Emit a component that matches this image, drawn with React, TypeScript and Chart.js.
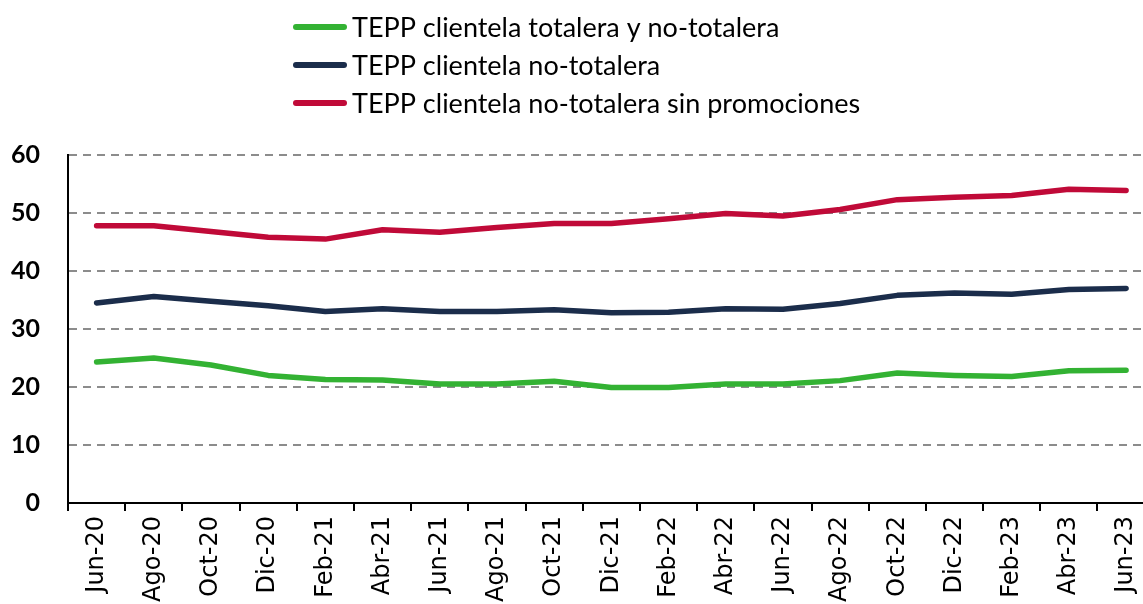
import React, { useEffect, useRef } from "react";
import { Chart, registerables } from "chart.js";

Chart.register(...registerables);

const categories = [
  "Jun-20", "Ago-20", "Oct-20", "Dic-20", "Feb-21", "Abr-21", "Jun-21", "Ago-21", "Oct-21", "Dic-21",
  "Feb-22", "Abr-22", "Jun-22", "Ago-22", "Oct-22", "Dic-22", "Feb-23", "Abr-23", "Jun-23",
];

const seriesNames = [
  "TEPP clientela totalera y no-totalera",
  "TEPP clientela no-totalera",
  "TEPP clientela no-totalera sin promociones",
];

const totaleraYNo = [24.3, 25.0, 23.8, 22.0, 21.3, 21.2, 20.5, 20.5, 21.0, 19.9, 19.9, 20.5, 20.5, 21.1, 22.4, 22.0, 21.8, 22.8, 22.9];
const noTotalera = [34.5, 35.6, 34.8, 34.0, 33.0, 33.5, 33.0, 33.0, 33.3, 32.8, 32.9, 33.5, 33.4, 34.4, 35.8, 36.2, 36.0, 36.8, 37.0];
const sinPromociones = [47.8, 47.8, 46.8, 45.8, 45.5, 47.1, 46.7, 47.5, 48.2, 48.2, 49.0, 49.9, 49.5, 50.6, 52.3, 52.7, 53.0, 54.1, 53.9];

const yTicks = [0, 10, 20, 30, 40, 50, 60];

const colors = ["#33b233", "#1b2d4b", "#c00a38"];

const legendPlugin = {
  id: "leftLegend",
  afterDraw(chart: any) {
    const ctx = chart.ctx as CanvasRenderingContext2D;
    ctx.save();
    chart.data.datasets.forEach((ds: any, i: number) => {
      const y = 27 + i * 38;
      ctx.strokeStyle = ds.borderColor;
      ctx.lineWidth = 6;
      ctx.lineCap = "round";
      ctx.beginPath();
      ctx.moveTo(296, y);
      ctx.lineTo(344, y);
      ctx.stroke();
      ctx.fillStyle = "#000";
      ctx.font = "27px Lato";
      ctx.textBaseline = "middle";
      ctx.textAlign = "left";
      ctx.fillText(ds.label, 352, y + 1);
    });
    ctx.restore();
  },
};

export default function App() {
  const ref = useRef<HTMLCanvasElement>(null);

  useEffect(() => {
    const data = [totaleraYNo, noTotalera, sinPromociones];
    const chart = new Chart(ref.current as HTMLCanvasElement, {
      type: "line",
      data: {
        labels: categories,
        datasets: data.map((d, i) => ({
          label: seriesNames[i],
          data: d,
          borderColor: colors[i],
          backgroundColor: colors[i],
          borderWidth: 5.5,
          pointRadius: 0,
          pointHoverRadius: 0,
          tension: 0,
          fill: false,
          borderCapStyle: "round",
          borderJoinStyle: "round",
        })),
      },
      options: {
        responsive: false,
        animation: false,
        devicePixelRatio: 1,
        layout: { padding: { top: 155, right: 4, left: 0, bottom: 0 } },
        plugins: {
          legend: { display: false },
          tooltip: { enabled: false },
        },
        scales: {
          x: {
            type: "category",
            offset: true,
            grid: {
              display: true,
              drawOnChartArea: false,
              drawTicks: true,
              tickLength: 8,
              color: "#000",
              lineWidth: 2,
              offset: true,
            },
            border: { display: true, color: "#000", width: 2 },
            ticks: {
              autoSkip: false,
              maxRotation: 90,
              minRotation: 90,
              padding: 5,
              color: "#000",
              font: { family: "DejaVu Sans", size: 24 },
            },
            afterFit: (s: any) => {
              s.height = 101;
            },
          },
          y: {
            min: yTicks[0],
            max: yTicks[yTicks.length - 1],
            afterBuildTicks: (s: any) => {
              s.ticks = yTicks.map((v) => ({ value: v }));
            },
            ticks: {
              stepSize: 10,
              padding: 28,
              color: "#000",
              font: { family: "Lato", size: 25, weight: "bold" },
            },
            grid: {
              color: (c: any) => (c.tick && c.tick.value === 0 ? "rgba(0,0,0,0)" : "#8c8c8c"),
              lineWidth: 2,
              drawTicks: false,
            },
            border: { display: true, color: "#000", width: 2, dash: [8, 6] },
            afterFit: (s: any) => {
              s.width = 68;
            },
          },
        },
      },
      plugins: [legendPlugin],
    } as any);
    return () => chart.destroy();
  }, []);

  return (
    <div
      style={{
        position: "absolute",
        left: 0,
        top: 0,
        width: 1143,
        height: 604,
        overflow: "hidden",
        background: "#fff",
      }}
    >
      <canvas ref={ref} width={1160} height={604} style={{ display: "block", width: 1160, height: 604 }} />
    </div>
  );
}
